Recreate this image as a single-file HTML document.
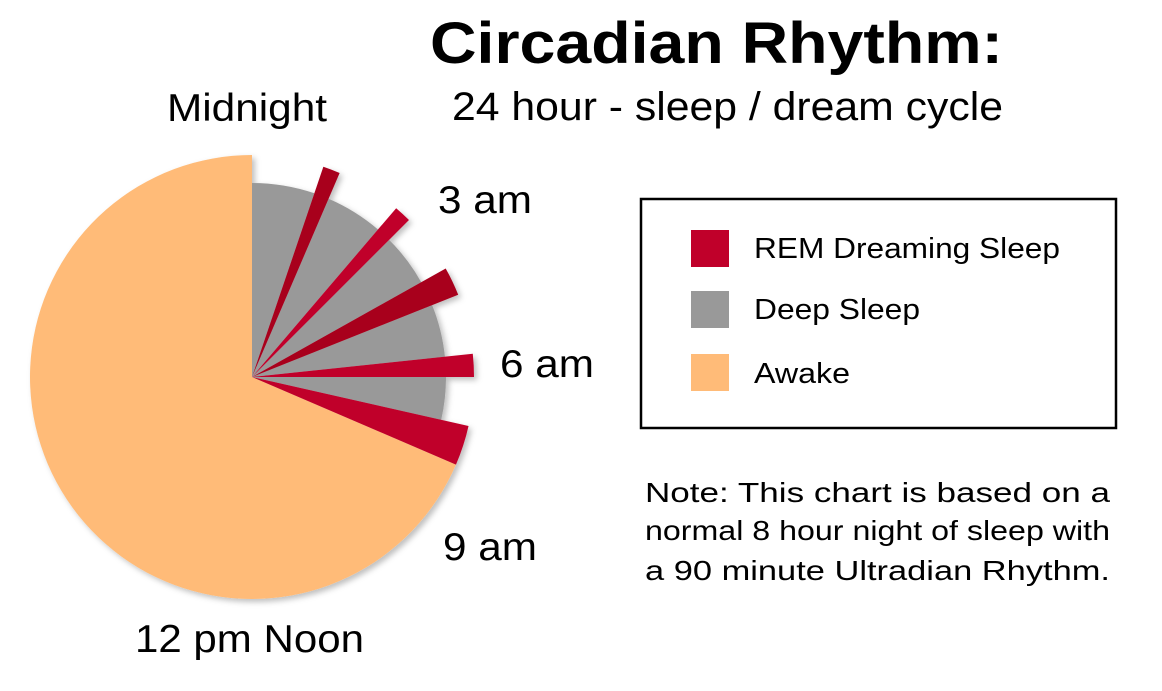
<!DOCTYPE html>
<html><head><meta charset="utf-8"><style>
body{margin:0;background:#fff;width:1162px;height:691px;overflow:hidden;font-family:"Liberation Sans",Arial,sans-serif}
svg{position:absolute;left:0;top:0}
</style></head><body>
<svg width="1162" height="691">
<defs><filter id="sh" x="-10%" y="-10%" width="130%" height="130%"><feDropShadow dx="3" dy="3" stdDeviation="3" flood-color="#000" flood-opacity="0.25"/></filter></defs>
<text x="430" y="63" font-size="58" font-weight="bold" textLength="573" lengthAdjust="spacingAndGlyphs">Circadian Rhythm:</text>
<text x="452" y="120" font-size="40" textLength="551" lengthAdjust="spacingAndGlyphs">24 hour - sleep / dream cycle</text>
<g id="pie" filter="url(#sh)"></g>
<g font-size="39">
<text x="167" y="121" textLength="160" lengthAdjust="spacingAndGlyphs">Midnight</text>
<text x="438" y="213" textLength="94" lengthAdjust="spacingAndGlyphs">3 am</text>
<text x="500" y="377" textLength="94" lengthAdjust="spacingAndGlyphs">6 am</text>
<text x="443" y="560" textLength="94" lengthAdjust="spacingAndGlyphs">9 am</text>
<text x="135" y="652" textLength="229" lengthAdjust="spacingAndGlyphs">12 pm Noon</text>
</g>
<rect x="641" y="199" width="475" height="229" fill="none" stroke="#000" stroke-width="2.5"/>
<rect x="691" y="230" width="38" height="37" fill="#c0002a"/>
<text x="754" y="258" font-size="29" textLength="306" lengthAdjust="spacingAndGlyphs">REM Dreaming Sleep</text>
<rect x="691" y="291" width="38" height="37" fill="#999"/>
<text x="754" y="319" font-size="29" textLength="166" lengthAdjust="spacingAndGlyphs">Deep Sleep</text>
<rect x="691" y="354" width="38" height="37" fill="#ffbb78"/>
<text x="754" y="383" font-size="29" textLength="96" lengthAdjust="spacingAndGlyphs">Awake</text>
<g font-size="28">
<text x="645" y="502" textLength="465" lengthAdjust="spacingAndGlyphs">Note: This chart is based on a</text>
<text x="645" y="540" textLength="465" lengthAdjust="spacingAndGlyphs">normal 8 hour night of sleep with</text>
<text x="645" y="580" textLength="465" lengthAdjust="spacingAndGlyphs">a 90 minute Ultradian Rhythm.</text>
</g>
</svg>
<script>
const segStart=[0,1.25,1.55,2.7,3.0,4.05,4.55,5.6,6.0,6.85,7.55];
const segEnd=[1.25,1.55,2.7,3.0,4.05,4.55,5.6,6.0,6.85,7.55,24];
const segType=["deep","rem","deep","rem","deep","rem","deep","rem","deep","rem","awake"];
const remShade=["","dark","","light","","dark","","light","","light",""];
const cx=252,cy=377;
const radius={deep:194,rem:222,awake:222};
const colors={deep:"#999999",awake:"#ffbb78",light:"#c0002a",dark:"#a8001e"};
function ang(h){return h/24*2*Math.PI;}
function pt(h,r){const a=ang(h);return [cx+r*Math.sin(a),cy-r*Math.cos(a)];}
const g=document.getElementById('pie');
const order=[];segType.forEach((t,i)=>{if(t!=='rem')order.push(i)});segType.forEach((t,i)=>{if(t==='rem')order.push(i)});
order.forEach(i=>{
 const t=segType[i],r=radius[t];
 const p1=pt(segStart[i],r),p2=pt(segEnd[i],r);
 const large=(segEnd[i]-segStart[i])>12?1:0;
 const p=document.createElementNS('http://www.w3.org/2000/svg','path');
 p.setAttribute('d',`M${cx},${cy}L${p1[0]},${p1[1]}A${r},${r} 0 ${large} 1 ${p2[0]},${p2[1]}Z`);
 p.setAttribute('fill',t==='rem'?colors[remShade[i]]:colors[t]);
 
 
 g.appendChild(p);
});
</script>
</body></html>
